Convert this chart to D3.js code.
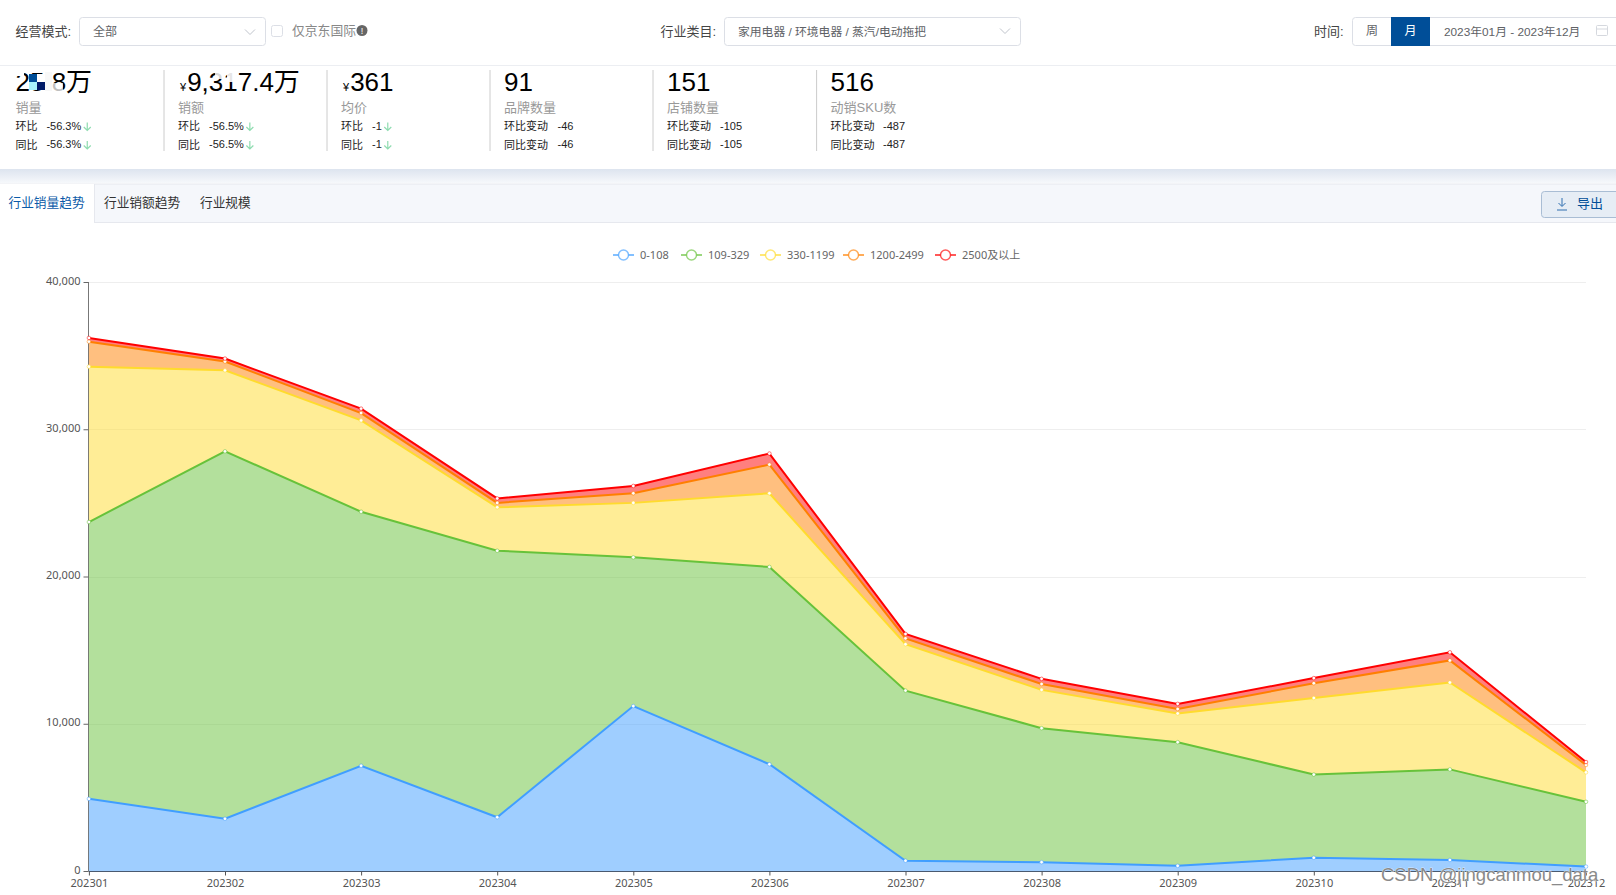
<!DOCTYPE html>
<html><head><meta charset="utf-8">
<script src="https://cdn.jsdelivr.net/npm/d3@7/dist/d3.min.js"></script>
<style>html,body{margin:0;padding:0;background:#fff;overflow:hidden}svg{display:block}text{font-family:"Liberation Sans","Noto Sans CJK SC",sans-serif}</style>
</head><body><svg id="c" width="1616" height="895"></svg>
<script>
const months=["202301","202302","202303","202304","202305","202306","202307","202308","202309","202310","202311","202312"];
const seriesNames=["0-108","109-329","330-1199","1200-2499","2500及以上"];
const s0=[4900,3550,7150,3650,11200,7250,700,600,350,900,750,300];
const s1=[18800,24950,17250,18100,10100,13400,11550,9100,8400,5650,6150,4400];
const s2=[10550,5500,6200,2950,3700,5000,3150,2600,1950,5200,5900,2000];
const s3=[1700,600,500,300,650,1950,400,400,300,1000,1500,500];
const s4=[250,200,300,300,500,750,300,350,350,350,550,200];
const colors=["#409eff","#67c23a","#ffdb2d","#ff7f00","#ff0000"];
const legendX=[622,690,769,852,944];
const yTicks=[0,10000,20000,30000,40000];

const metricNames=["销量","销额","均价","品牌数量","店铺数量","动销SKU数"];
const metricValues=["25.8万","9,317.4万","361","91","151","516"];
const metricPrefix=["","¥","¥","","",""];
const metricRows=[["环比","同比"],["环比","同比"],["环比","同比"],["环比变动","同比变动"],["环比变动","同比变动"],["环比变动","同比变动"]];
const metricChange=["-56.3%","-56.5%","-1","-46","-105","-487"];
const metricX=[15.5,178,341,504,667,830.6];
const changeX=[46.4,209,372,557.6,720,883];
const hasArrow=[true,true,true,false,false,false];
const tabs=["行业销量趋势","行业销额趋势","行业规模"];
const tabX=[8.5,104,200];

const svg=d3.select("#c");
const T=(x,y,s,size,fill,anchor)=>svg.append("text").attr("x",x).attr("y",y).attr("font-size",size).attr("fill",fill).attr("text-anchor",anchor||"start").attr("dominant-baseline","central").text(s);
const R=(x,y,w,h,fill,stroke,r)=>svg.append("rect").attr("x",x).attr("y",y).attr("width",w).attr("height",h).attr("fill",fill).attr("stroke",stroke||"none").attr("rx",r||0);

/* header */
svg.append("line").attr("x1",0).attr("x2",1616).attr("y1",65.5).attr("y2",65.5).attr("stroke","#eceef2");
T(15.5,31.5,"经营模式:",13,"#444");
R(79.5,17.5,186,28,"#fff","#dcdfe6",3);
T(93,31.5,"全部",12,"#606266");
const chev=(x,y)=>svg.append("path").attr("d",`M${x-5},${y-2.5}L${x},${y+2.5}L${x+5},${y-2.5}`).attr("fill","none").attr("stroke","#c0c4cc");
chev(250,32);
R(271.5,25.5,11,11,"#fff","#dcdfe6",2);
T(292,30.5,"仅京东国际",12.8,"#888");
svg.append("circle").attr("cx",362).attr("cy",30.5).attr("r",5.5).attr("fill","#666");
T(362,30.5,"!",9,"#fff","middle");
T(660.6,31.5,"行业类目:",13,"#444");
R(724.5,17.5,296,28,"#fff","#dcdfe6",3);
T(738,31.5,"家用电器 / 环境电器 / 蒸汽/电动拖把",11.8,"#606266");
chev(1005,31);
T(1314,31.5,"时间:",13,"#444");
R(1352.5,17.5,270,28,"#fff","#dcdfe6",3);
T(1372,31,"周",12,"#606266","middle");
R(1391,17,39,29,"#004e98");
T(1410.5,31,"月",12,"#fff","middle");
T(1444,31.5,"2023年01月 - 2023年12月",11.8,"#606266");
R(1596.5,25.5,11,10,"none","#d5d8de",1);
svg.append("line").attr("x1",1597).attr("x2",1607).attr("y1",29).attr("y2",29).attr("stroke","#d5d8de");

/* metrics */
metricNames.forEach((n,i)=>{
  if(i>0) svg.append("line").attr("x1",metricX[i]-14).attr("x2",metricX[i]-14).attr("y1",70).attr("y2",151).attr("stroke","#ccc");
  const big=svg.append("text").attr("x",metricX[i]).attr("y",91).attr("fill","#000").attr("font-size",26);
  if(metricPrefix[i]){
    big.append("tspan").attr("font-size",11).attr("dx",2).text(metricPrefix[i]);
    big.append("tspan").attr("dx",1).text(metricValues[i]);
  } else big.append("tspan").text(metricValues[i]);
  T(metricX[i],107,n,13,"#999");
  metricRows[i].forEach((r,j)=>{
    const y=126+j*18.5;
    T(metricX[i],y,r,11,"#222");
    const t=T(changeX[i],y-0.5,metricChange[i],11,"#222");
    if(hasArrow[i]){
      const ax=changeX[i]+t.node().getComputedTextLength()+6;
      svg.append("path").attr("d",`M${ax},${y-3.5}V${y+4.5}M${ax-3.5},${y+1}L${ax},${y+4.5}L${ax+3.5},${y+1}`).attr("fill","none").attr("stroke","#8fdcb0").attr("stroke-width",1.2);
    }
  });
});
/* rendering glitch over the first two figures */
[[17,72,7,4,"#fff"],[29,74,8,8,"#004e98"],[29,82,8,8,"#a8f4fb"],[37,74,8,8,"#fff"],[37,82,8,8,"#001a66"],[45,72,7,19,"#f8f8f8"],[52,83,11,8,"rgba(255,255,255,.75)"],
 [215,72,8,7,"rgba(255,255,255,.85)"],[227,72,9,10,"rgba(255,255,255,.9)"]].forEach(d=>R(d[0],d[1],d[2],d[3],d[4]));

/* band + tabs */
const defs=svg.append("defs");
const g=defs.append("linearGradient").attr("id","band").attr("x1",0).attr("x2",0).attr("y1",0).attr("y2",1);
g.append("stop").attr("offset",0).attr("stop-color","#dde4ef");
g.append("stop").attr("offset",1).attr("stop-color","#f6f8fb");
R(0,169,1616,14,"url(#band)");
R(0,184,1616,38,"#f5f7fb");
svg.append("line").attr("x1",0).attr("x2",1616).attr("y1",184).attr("y2",184).attr("stroke","#e6e8ee");
svg.append("line").attr("x1",0).attr("x2",1616).attr("y1",222.5).attr("y2",222.5).attr("stroke","#e6e8ee");
R(0,184,94,39,"#fff");
svg.append("line").attr("x1",94.5).attr("x2",94.5).attr("y1",184).attr("y2",222).attr("stroke","#e6e8ee");
tabs.forEach((t,i)=>T(tabX[i],203,t,12.7,i==0?"#0b5aa8":"#333"));
R(1541.5,191.5,90,26,"#e6edf5","#a9bdd4",3);
T(1577,203.5,"导出",13,"#004e98");
svg.append("path").attr("d","M1562,198V206M1558.5,203L1562,206.5L1565.5,203M1557,210H1567").attr("fill","none").attr("stroke","#2f6fb0");

/* chart */
const x=d3.scalePoint().domain(months).range([88.9,1586]);
const y=d3.scaleLinear().domain([0,40000]).range([871,282]);
const rows=months.map((m,i)=>({m,a:s0[i],b:s1[i],c:s2[i],d:s3[i],e:s4[i]}));
const stacked=d3.stack().keys(["a","b","c","d","e"])(rows);
const axisFont='"Noto Sans","Noto Sans CJK SC",sans-serif';

const gy=svg.append("g").attr("transform","translate(88.5,0)").call(d3.axisLeft(y).tickValues(yTicks).tickSize(5).tickPadding(3).tickFormat(d3.format(",")));
gy.selectAll("text").attr("font-size",11).attr("fill","#555").style("font-family",axisFont).attr("dy","0.2em");
gy.selectAll("line").attr("stroke","#666");
gy.select(".domain").attr("stroke","#777").attr("d","M0,282V871");
svg.append("g").selectAll("line").data(yTicks.slice(1)).join("line")
  .attr("x1",89).attr("x2",1586).attr("y1",d=>Math.round(y(d))+.5).attr("y2",d=>Math.round(y(d))+.5).attr("stroke","#eee");

const area=d3.area().x(d=>x(d.data.m)).y0(d=>y(d[0])).y1(d=>y(d[1]));
const line=d3.line().x(d=>x(d.data.m)).y(d=>y(d[1]));
stacked.forEach((s,i)=>svg.append("path").attr("d",area(s)).attr("fill",colors[i]).attr("fill-opacity",.5));
stacked.forEach((s,i)=>{
  svg.append("path").attr("d",line(s)).attr("fill","none").attr("stroke",colors[i]).attr("stroke-width",2);
  svg.append("g").selectAll("circle").data(s).join("circle").attr("cx",d=>x(d.data.m)).attr("cy",d=>y(d[1])).attr("r",1.8)
    .attr("fill","#fff").attr("stroke",colors[i]).attr("stroke-opacity",.5).attr("stroke-width",1);
});

const gx=svg.append("g").attr("transform","translate(0,871.5)").call(d3.axisBottom(x).tickSize(4).tickPadding(4));
gx.selectAll("text").attr("font-size",11).attr("fill","#555").style("font-family",axisFont);
gx.selectAll("line").attr("stroke","#555");
gx.select(".domain").attr("stroke","#4a5a70").attr("d","M88.5,0H1586");

/* legend */
seriesNames.forEach((n,i)=>{
  const c=legendX[i];
  svg.append("line").attr("x1",c-9).attr("x2",c+12).attr("y1",255).attr("y2",255).attr("stroke",colors[i]).attr("stroke-opacity",.65).attr("stroke-width",2);
  svg.append("circle").attr("cx",c+1.5).attr("cy",255).attr("r",5).attr("fill","#fff").attr("stroke",colors[i]).attr("stroke-opacity",.65).attr("stroke-width",1.5);
  T(c+18,254.5,n,11,"#666").style("font-family",axisFont);
});

/* watermark */
svg.append("text").attr("x",1381).attr("y",881).attr("font-size",18.5).attr("fill","#8a8a8a").attr("stroke","#fff").attr("stroke-width",.6).attr("paint-order","stroke").text("CSDN @jingcanmou_data");
</script></body></html>
